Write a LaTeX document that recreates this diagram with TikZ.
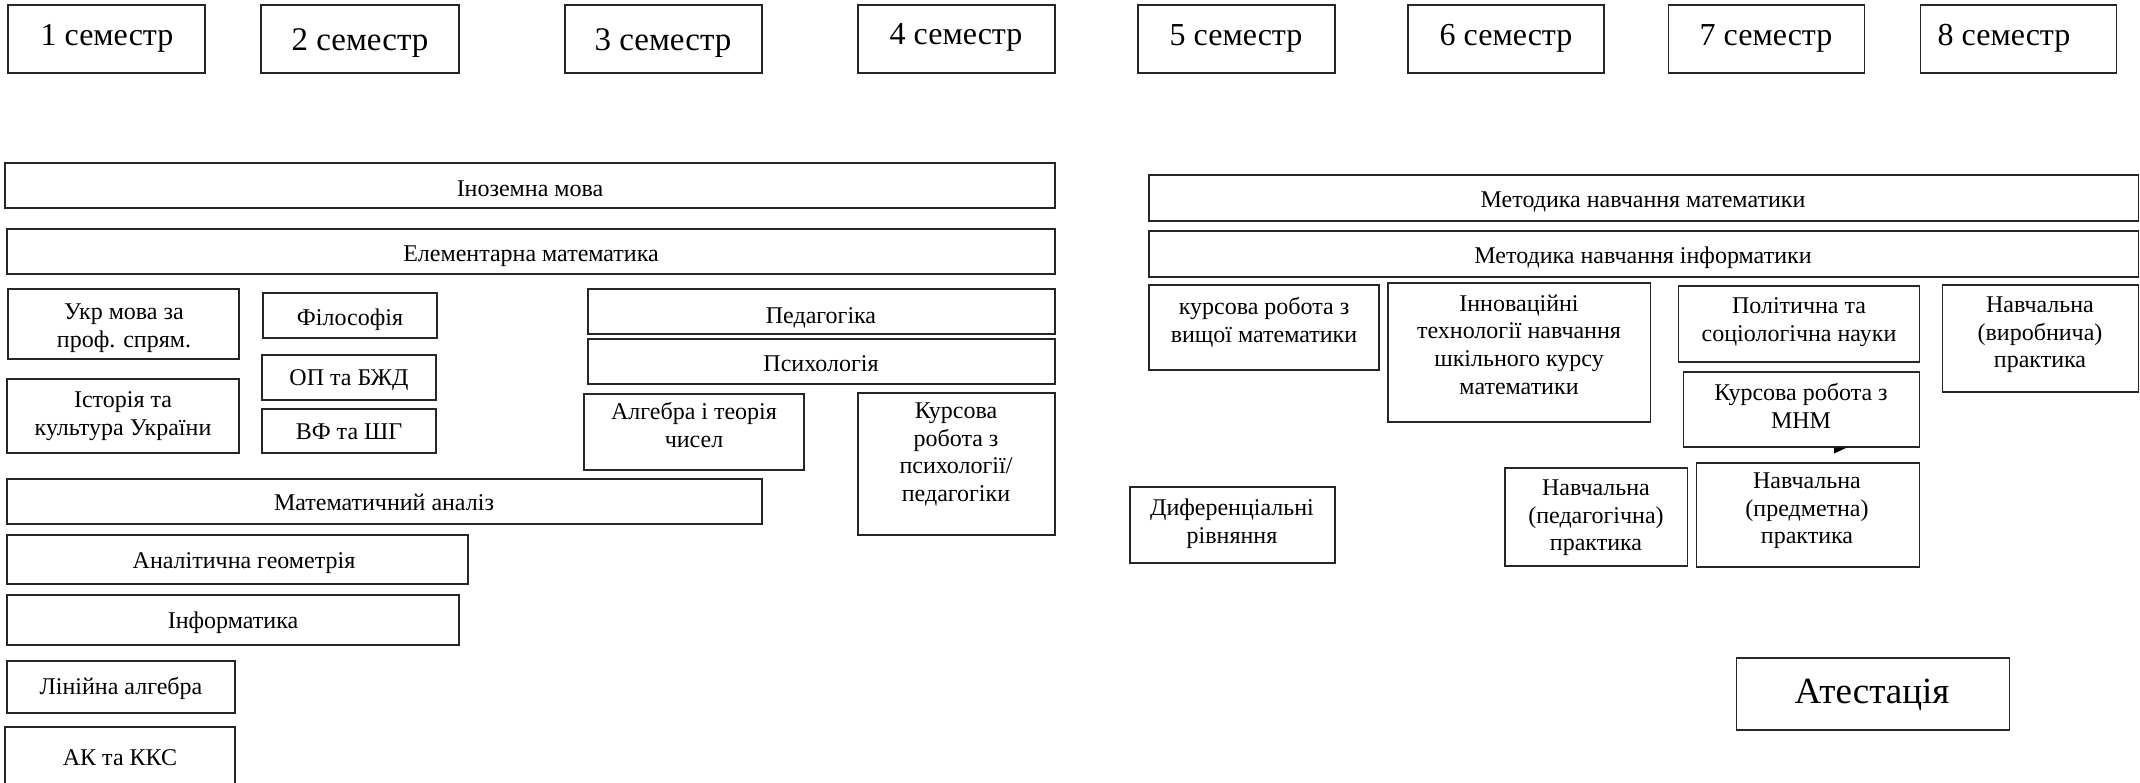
\documentclass[tikz,border=0pt]{standalone}
\usepackage{fontspec}
\setmainfont{Liberation Serif}
\usetikzlibrary{fit}
\tikzset{
  box/.style={draw=black!85, line width=1.05pt, inner sep=0pt},
  txt/.style={inner sep=0pt, anchor=north, align=center,
    font=\fontsize{24}{27.6}\selectfont, yshift=20.4pt,
    execute at begin node={\rule{0pt}{20.4pt}}},
  sem/.style={inner sep=0pt, anchor=north, align=center,
    font=\fontsize{32}{36}\selectfont, yshift=27.2pt,
    execute at begin node={\rule{0pt}{27.2pt}}},
  semb/.style={inner sep=0pt, anchor=north, align=center,
    font=\fontsize{33}{37}\selectfont, yshift=28pt,
    execute at begin node={\rule{0pt}{28pt}}},
  atttxt/.style={inner sep=0pt, anchor=north, align=center,
    font=\fontsize{37}{42}\selectfont, yshift=31.5pt,
    execute at begin node={\rule{0pt}{31.5pt}}}
}
\begin{document}
\begin{tikzpicture}[x=1pt,y=-1pt]
\clip (0,0) rectangle (2140,782);
\fill[white] (0,0) rectangle (2140,782);

% semesters
\node[box, fit={(8,5) (205,73)}] (s1) {};
\node[sem] (s1t) at (107,45) {1 семестр};
\node[box, fit={(261,5) (459,73)}] (s2) {};
\node[semb] (s2t) at (360,50) {2 семестр};
\node[box, fit={(565,5) (762,73)}] (s3) {};
\node[semb] (s3t) at (663,50) {3 семестр};
\node[box, fit={(858,5) (1055,73)}] (s4) {};
\node[sem] (s4t) at (956,44) {4 семестр};
\node[box, fit={(1138,5) (1335,73)}] (s5) {};
\node[sem] (s5t) at (1236,45) {5 семестр};
\node[box, fit={(1408,5) (1604,73)}] (s6) {};
\node[sem] (s6t) at (1506,45) {6 семестр};
\node[box, fit={(1668,5) (1864,73)}] (s7) {};
\node[sem] (s7t) at (1766,45) {7 семестр};
\node[box, fit={(1920,5) (2116,73)}] (s8) {};
\node[sem] (s8t) at (2004,45) {8 семестр};

% left part
\node[box, fit={(5,163) (1055,208)}] (inoz) {};
\node[txt] (inozt) at (530,196) {Іноземна мова};
\node[box, fit={(7,229) (1055,274)}] (elem) {};
\node[txt] (elemt) at (531,261) {Елементарна математика};
\node[box, fit={(8,289) (239,359)}] (ukr) {};
\begin{scope}
  \clip (8,289) rectangle (239,352.5);
  \node[txt] (ukrt) at (124,324) {Укр мова за\\проф. спрям.};
\end{scope}
\node[box, fit={(263,293) (437,338)}] (fil) {};
\node[txt] (filt) at (350,325) {Філософія};
\node[box, fit={(262,355) (436,400)}] (op) {};
\node[txt] (opt) at (349,385) {ОП та БЖД};
\node[box, fit={(262,409) (436,453)}] (vf) {};
\node[txt] (vft) at (349,439) {ВФ та ШГ};
\node[box, fit={(7,379) (239,453)}] (ist) {};
\node[txt] (istt) at (123,412) {Історія та\\культура України};
\node[box, fit={(588,289) (1055,334)}] (ped) {};
\node[txt] (pedt) at (821,323) {Педагогіка};
\node[box, fit={(588,339) (1055,384)}] (psy) {};
\node[txt] (psyt) at (821,371) {Психологія};
\node[box, fit={(584,394) (804,470)}] (alg) {};
\node[txt] (algt) at (694,423) {Алгебра і теорія\\чисел};
\node[box, fit={(858,393) (1055,535)}] (kpp) {};
\node[txt] (kppt) at (956,423) {Курсова\\робота з\\психології/\\педагогіки};
\node[box, fit={(7,479) (762,524)}] (ma) {};
\node[txt] (mat) at (384,510) {Математичний аналіз};
\node[box, fit={(7,535) (468,584)}] (ag) {};
\node[txt] (agt) at (244,568) {Аналітична геометрія};
\node[box, fit={(7,595) (459,645)}] (inf) {};
\node[txt] (inft) at (233,628) {Інформатика};
\node[box, fit={(7,661) (235,713)}] (la) {};
\node[txt] (lat) at (121,694) {Лінійна алгебра};
\node[box, fit={(5,727) (235,800)}] (ak) {};
\node[txt] (akt) at (120,765) {АК та ККС};

% right part
\node[box, fit={(1149,175) (2138,221)}] (mnmat) {};
\node[txt] (mnmatt) at (1643,207) {Методика навчання математики};
\node[box, fit={(1149,231) (2138,277)}] (mninf) {};
\node[txt] (mninft) at (1643,263) {Методика навчання інформатики};
\node[box, fit={(1149,285) (1379,370)}] (kvm) {};
\node[txt] (kvmt) at (1264,318) {курсова робота з\\вищої математики};
\node[box, fit={(1388,283) (1650,422)}] (inn) {};
\node[txt] (innt) at (1519,315) {Інноваційні\\технології навчання\\шкільного курсу\\математики};
\node[box, fit={(1678,286) (1919,362)}] (pol) {};
\node[txt] (polt) at (1799,318) {Політична та\\соціологічна науки};
\node[box, fit={(1942,285) (2138,392)}] (vyr) {};
\node[txt] (vyrt) at (2040,317) {Навчальна\\(виробнича)\\практика};
\node[box, fit={(1683,372) (1919,447)}] (mnm) {};
\node[txt] (mnmt) at (1801,404) {Курсова робота з\\МНМ};
\node[box, fit={(1696,463) (1919,567)}] (pred) {};
\node[txt] (predt) at (1807,493) {Навчальна\\(предметна)\\практика};
\node[box, fit={(1505,468) (1687,566)}] (pedp) {};
\node[txt] (pedpt) at (1596,500) {Навчальна\\(педагогічна)\\практика};
\node[box, fit={(1130,487) (1335,563)}] (dif) {};
\node[txt] (dift) at (1232,519) {Диференціальні\\рівняння};
\node[box, fit={(1736,658) (2009,730)}] (att) {};
\node[atttxt] (attt) at (1872,703) {Атестація};

% small arrow tip below the MNM box
\fill[black] (1834,447.5) -- (1847,447.5) -- (1834,453.5) -- cycle;
\end{tikzpicture}
\end{document}
